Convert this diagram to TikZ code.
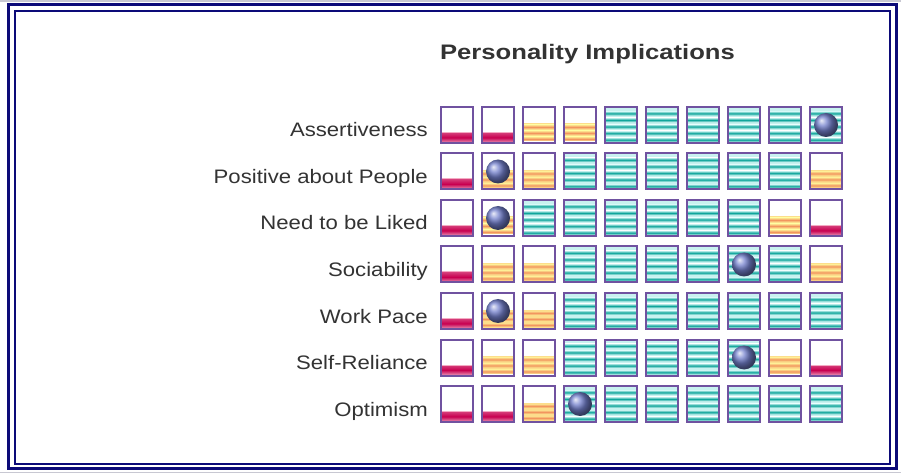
\documentclass[tikz,border=0pt]{standalone}
\usepackage{fontspec}
\setmainfont{Liberation Sans}
\definecolor{navy}{RGB}{12,10,120}
\definecolor{shadowgrey}{RGB}{200,200,210}
\definecolor{cellpurple}{RGB}{112,82,160}
\definecolor{lavender}{RGB}{205,192,228}
\definecolor{crimson}{RGB}{200,0,80}
\definecolor{redpink}{RGB}{244,170,195}
\definecolor{orangec}{RGB}{242,150,95}
\definecolor{paleyellow}{RGB}{252,222,140}
\definecolor{tealc}{RGB}{16,165,155}
\definecolor{lightcyan}{RGB}{200,242,240}
\definecolor{ballblue}{RGB}{115,128,205}
\definecolor{textgrey}{RGB}{51,51,51}
\tikzset{
  cellbox/.style={draw=cellpurple, line width=2pt, minimum width=32pt,
    minimum height=36pt, inner sep=0pt},
  lbl/.style={anchor=base east, inner sep=0pt, text=textgrey,
    font=\fontsize{19.5}{22}\selectfont},
  ttl/.style={anchor=base, inner sep=0pt, text=textgrey,
    font=\fontsize{21}{24}\selectfont\bfseries}
}
% cell fillings, local box 0..32 x 0..36
\newcommand{\fillcellR}{%
  \fill[redpink] (0,9.5) rectangle (32,11);
  \shade[top color=crimson!80, bottom color=crimson!55, middle color=crimson] (0,1.5) rectangle (32,9.5);}
\newcommand{\fillcellO}{%
  \fill[paleyellow] (0,1.5) rectangle (32,19.5);
  \foreach \s in {2,8,14}
    \shade[top color=paleyellow, bottom color=paleyellow, middle color=orangec] (0,\s) rectangle (32,\s+4);}
\newcommand{\fillcellT}{%
  \fill[lightcyan] (0,0) rectangle (32,36);
  \foreach \s in {1,7.6,14.2,20.8,27.4}
    \shade[top color=lightcyan, bottom color=lightcyan, middle color=tealc] (0,\s) rectangle (32,\s+4.4);}
\newcommand{\wide}[1]{\scalebox{1.135}[1]{#1}}
\begin{document}
\begin{tikzpicture}[x=1pt,y=1pt]
\useasboundingbox (0,0) rectangle (901,474);
\fill[white] (0,0) rectangle (901,474);
% frame
\draw[shadowgrey, line width=1.5pt] (0,473) -- (901,473);
\draw[shadowgrey, line width=1.5pt] (0,1.5) -- (901,1.5);
\draw[navy, line width=3pt] (8.5,469.5) rectangle (896,5.5);
\draw[navy, line width=2pt] (15,463) rectangle (890.3,10);
% title
\node[ttl] (title) at (587.5,414) {\scalebox{1.22}[1]{Personality Implications}};
% labels
\node[lbl] (l1) at (428,337)   {\wide{Assertiveness}};
\node[lbl] (l2) at (428,290.5) {\wide{Positive about People}};
\node[lbl] (l3) at (428,244)   {\wide{Need to be Liked}};
\node[lbl] (l4) at (428,197.5) {\wide{Sociability}};
\node[lbl] (l5) at (428,151)   {\wide{Work Pace}};
\node[lbl] (l6) at (428,104.5) {\wide{Self-Reliance}};
\node[lbl] (l7) at (428,58)    {\wide{Optimism}};
% cells
\foreach \row [count=\r] in {
  {R,R,O,O,T,T,T,T,T,T},
  {R,O,O,T,T,T,T,T,T,O},
  {R,O,T,T,T,T,T,T,O,R},
  {R,O,O,T,T,T,T,T,T,O},
  {R,O,O,T,T,T,T,T,T,T},
  {R,O,O,T,T,T,T,T,O,R},
  {R,R,O,T,T,T,T,T,T,T}} {
  \foreach \t [count=\c] in \row {
    \begin{scope}[shift={({441+41*(\c-1)}, {331-46.5*(\r-1)})}]
      \fill[white] (0,0) rectangle (32,36);
      \csname fillcell\t\endcsname
      \draw[lavender, line width=1pt] (0.5,0.5) rectangle (31.5,35.5);
    \end{scope}
    \node[cellbox] (c\r-\c) at ({457+41*(\c-1)}, {349-46.5*(\r-1)}) {};
  }
}
% balls
\foreach \r/\c in {1/10,2/2,3/2,4/8,5/2,6/8,7/4}
  \shade[ball color=ballblue] (c\r-\c.center) circle (12);
\end{tikzpicture}
\end{document}
